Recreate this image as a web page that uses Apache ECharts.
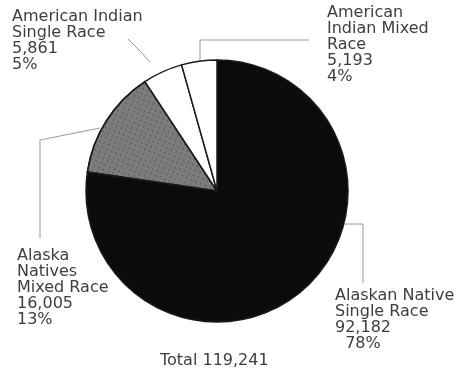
<!DOCTYPE html>
<html>
<head>
<meta charset="utf-8">
<script src="https://cdn.jsdelivr.net/npm/echarts@6/dist/echarts.min.js"></script>
<style>
  html, body { margin: 0; padding: 0; background: #fff; }
  #chart { width: 462px; height: 372px; }
</style>
</head>
<body>
<div id="chart"></div>
<script>
// data, clockwise from 12 o'clock
const names = [
  'Alaskan Native\nSingle Race',
  'Alaska\nNatives\nMixed Race',
  'American Indian\nSingle Race',
  'American\nIndian Mixed\nRace'
];
const values = [92182, 16005, 5861, 5193];
const percentLabels = ['  78%', '13%', '5%', '4%'];
const colors = ['#0b0b0b', '#7c7c7c', '#ffffff', '#ffffff'];

// where each label block sits and how its leader line runs
const labelPos = [
  { x: 335, y: 288, line: [[340, 224], [363, 224], [363, 283]] },
  { x: 17, y: 248, line: [[100, 128], [40, 140], [40, 238]] },
  { x: 12, y: 9, line: [[150, 62], [140, 51], [128, 39]] },
  { x: 327, y: 5, line: [[200, 62], [200, 40], [309, 40]] }
];

const total = values.reduce((a, b) => a + b, 0);
const fmt = v => v.toLocaleString('en-US');

// speckled fill for the mixed race slice
const speckle = {
  symbol: 'circle',
  symbolSize: 0.7,
  color: 'rgba(25,25,25,0.55)',
  dashArrayX: [3, 2],
  dashArrayY: [2, 3],
  rotation: 0.4
};

const chart = echarts.init(document.getElementById('chart'));
chart.setOption({
  backgroundColor: '#fff',
  animation: false,
  title: {
    text: 'Total ' + fmt(total),
    left: 155,
    top: 348,
    textStyle: { fontFamily: 'DejaVu Sans', fontSize: 16, fontWeight: 'normal', color: '#3e3e3e' }
  },
  series: [{
    type: 'pie',
    center: [217, 191],
    radius: 131,
    startAngle: 90,
    clockwise: true,
    data: names.map((n, i) => ({
      name: n,
      value: values[i],
      itemStyle: i === 1 ? { color: colors[i], decal: speckle } : { color: colors[i] }
    })),
    itemStyle: { borderColor: '#1a1a1a', borderWidth: 1.5 },
    label: {
      show: true,
      position: 'outside',
      formatter: p => p.name + '\n' + fmt(p.value) + '\n' + percentLabels[p.dataIndex],
      fontFamily: 'DejaVu Sans',
      fontSize: 16,
      lineHeight: 16,
      color: '#3e3e3e',
      overflow: 'none',
      width: 200
    },
    labelLine: {
      show: true,
      lineStyle: { color: '#9a9a9a', width: 1 }
    },
    labelLayout: params => {
      const p = labelPos[params.dataIndex];
      return {
        x: p.x,
        y: p.y,
        align: 'left',
        verticalAlign: 'top',
        labelLinePoints: p.line
      };
    }
  }]
});
</script>
</body>
</html>
